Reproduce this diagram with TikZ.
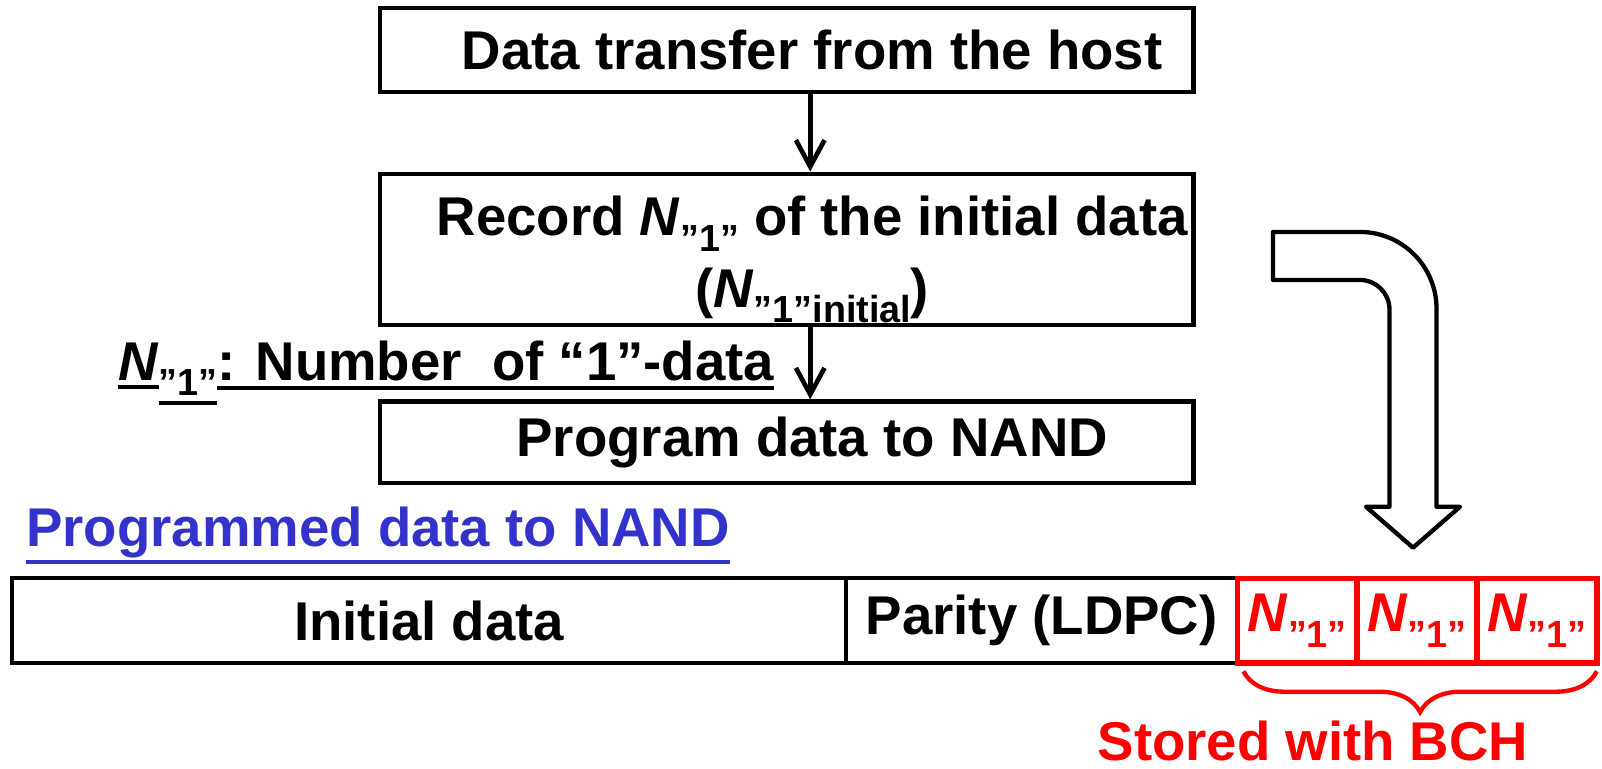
\documentclass[tikz,border=0pt]{standalone}
\usepackage{fontspec}
\setmainfont{Liberation Sans}
\usepackage{xcolor}
\definecolor{nandblue}{HTML}{3333CC}
\definecolor{bchred}{HTML}{FF0000}
\usetikzlibrary{calc,arrows.meta,positioning,decorations.pathreplacing}

% subscript "1" and the count N"1"
\newcommand{\qsub}[1]{\raisebox{-0.55ex}{\fontsize{10.5}{10.5}\selectfont ”1”#1}}
\newcommand{\Nq}[1][]{\textit{N}\qsub{#1}}
% thick underline under a box
\newcommand{\ulbox}[2][1.5pt]{\leavevmode\vtop{\hbox{#2}\kern#1\hrule height 1pt}}

\tikzset{
  stepbox/.style={draw, line width=1.2pt, minimum width=7.96cm, inner sep=0pt},
  steptext/.style={inner sep=0pt, align=center},
  flowarrow/.style={line width=1.3pt, -{Straight Barb[length=2.6mm,width=2.8mm]}},
  cell/.style={draw, line width=1.2pt, minimum height=0.83cm, inner sep=0pt, outer sep=0pt},
  redcell/.style={cell, draw=bchred, text=bchred, line width=1.5pt, minimum width=1.173cm},
}

\begin{document}
\begin{tikzpicture}[font=\fontsize{15.2}{20}\selectfont\bfseries]
\useasboundingbox (0,0) rectangle (15.68,7.52);

% ================= write flow =================
\node[stepbox, minimum height=0.82cm] (host) at (7.70,7.03) {};
\node[steptext] (hosttext) at ([xshift=2.5mm]host.center) {Data transfer from the host};
\node[stepbox, minimum height=1.48cm] (record) at (7.70,5.08) {};
\node[steptext] (recordtext) at ([xshift=2.5mm, yshift=-1mm]record.center) {Record \Nq{} of the initial data\\(\Nq[initial])};
\node[stepbox, minimum height=0.80cm] (program) at (7.70,3.19) {};
\node[steptext] (programtext) at ([xshift=2.5mm]program.center) {Program data to NAND};

\draw[flowarrow] ([xshift=2.3mm]host.south) -- ([xshift=2.3mm]record.north);
\draw[flowarrow] ([xshift=2.3mm]record.south) -- ([xshift=2.3mm]program.north);

% meaning of N"1"
\node[anchor=base west, inner sep=0pt] (legend) at (1.15,3.80)
  {\ulbox{\textit{N}}\ulbox{\qsub{}}\ulbox{: Number\ \ of “1”-data}};

% ================= page layout in NAND =================
\node[anchor=base west, inner sep=0pt, text=nandblue] (pagetitle) at (0.25,2.17) {\ulbox[0.6pt]{Programmed data to NAND}};

\node[cell, minimum width=8.16cm] (init) at (4.20,1.445) {Initial data};
\node[cell, minimum width=3.83cm, right=0pt of init] (parity) {Parity (LDPC)};
\node[redcell, right=0pt of parity] (bch1) {\Nq};
\node[redcell, right=0pt of bch1] (bch2) {\Nq};
\node[redcell, right=0pt of bch2] (bch3) {\Nq};

% copies kept with BCH
\draw[bchred, line width=1.2pt, decorate, decoration={brace, amplitude=0.40cm, mirror}]
  ([xshift=0.06cm, yshift=-0.08cm]bch1.south west) -- ([yshift=-0.08cm]bch3.south east);
\node[text=bchred, anchor=base] (bchnote) at (12.85,0.075) {Stored with BCH};

% bent block arrow from the count to the page
\draw[line width=1.2pt, fill=white, line join=round]
  (12.46,5.25) -- (13.31,5.25) arc[start angle=90, end angle=0, radius=0.75]
  -- (14.06,2.56) -- (14.29,2.56) -- (13.83,2.16) -- (13.37,2.56) -- (13.60,2.56)
  -- (13.60,4.49) arc[start angle=0, end angle=90, radius=0.29]
  -- (12.46,4.78) -- cycle;

\end{tikzpicture}
\end{document}
